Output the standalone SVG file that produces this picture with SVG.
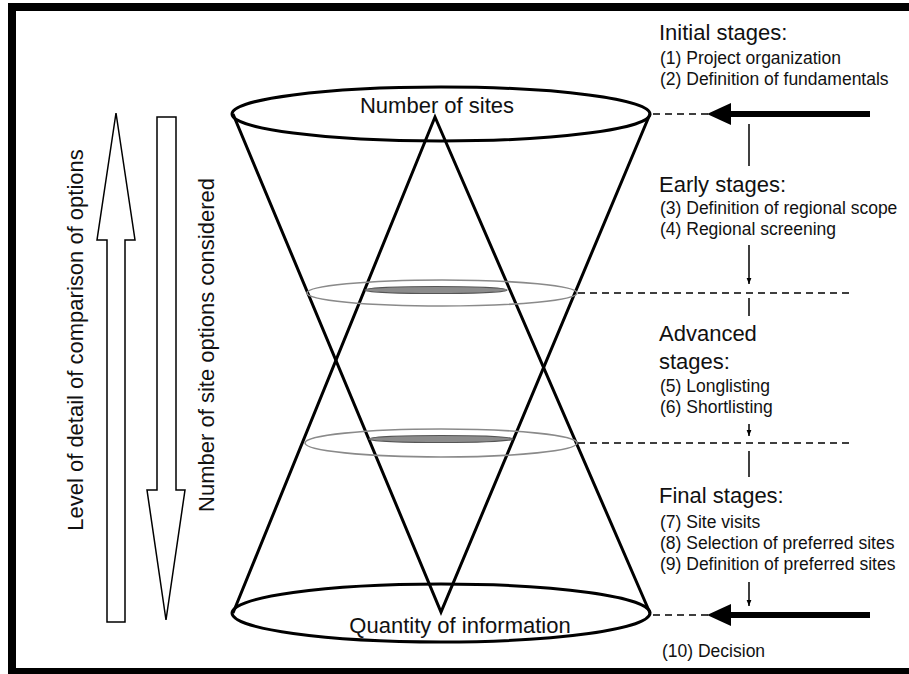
<svg xmlns="http://www.w3.org/2000/svg" width="909" height="674" viewBox="0 0 909 674">
  <defs>
    <style>
      .big { font-family: "Liberation Sans", Arial, sans-serif; font-size: 22px; fill: #111; }
      .small { font-family: "Liberation Sans", Arial, sans-serif; font-size: 17.5px; fill: #111; }
      .cone { fill: none; stroke: #000; stroke-width: 3; stroke-linejoin: miter; }
      .ring { fill: none; stroke: #8a8a8a; stroke-width: 1.6; }
      .core { fill: #8c8c8c; stroke: #555; stroke-width: 1.2; }
      .dash { stroke: #000; stroke-width: 1.5; stroke-dasharray: 7 5; fill: none; }
      .thin { stroke: #000; stroke-width: 1.5; fill: none; }
      .hollow { fill: #fff; stroke: #000; stroke-width: 1.5; stroke-linejoin: miter; }
    </style>
    <marker id="tip" viewBox="0 0 10 10" refX="10" refY="5" markerWidth="6" markerHeight="6" orient="auto" markerUnits="userSpaceOnUse">
      <path d="M0,1 L10,5 L0,9 Z" fill="#000"/>
    </marker>
  </defs>

  <rect width="909" height="674" fill="#fff"/>
  <!-- frame -->
  <rect x="12" y="7" width="910" height="665" fill="none" stroke="#000" stroke-width="8"/>

  <!-- side arrows -->
  <g id="arrow-detail">
    <polygon class="hollow" points="116,113 135,240 125,240 125,622 107,622 107,240 97,240"/>
    <text class="big" transform="translate(83,340) rotate(-90)" text-anchor="middle">Level of detail of comparison of options</text>
  </g>
  <g id="arrow-options">
    <polygon class="hollow" points="157,117 176,117 176,490 185,490 166,620 147,490 157,490"/>
    <text class="big" transform="translate(214,345) rotate(-90)" text-anchor="middle">Number of site options considered</text>
  </g>

  <!-- funnel -->
  <g id="funnel">
    <polyline class="cone" points="233,114 441,612 650,114"/>
    <polyline class="cone" points="233,613 435,117 650,613"/>
    <ellipse class="ring" cx="442" cy="293" rx="135" ry="13"/>
    <ellipse class="core" cx="436" cy="290" rx="71" ry="3.5"/>
    <ellipse class="ring" cx="441" cy="443" rx="136" ry="14"/>
    <ellipse class="core" cx="441" cy="439" rx="72" ry="3.5"/>
  </g>
  <g id="top-ellipse">
    <ellipse class="cone" cx="441" cy="114" rx="209" ry="27"/>
    <text class="big" x="437" y="113" text-anchor="middle">Number of sites</text>
  </g>
  <g id="bottom-ellipse">
    <ellipse class="cone" cx="441" cy="613" rx="209" ry="29"/>
    <text class="big" x="460" y="633" text-anchor="middle">Quantity of information</text>
  </g>

  <!-- connectors -->
  <g id="connectors">
    <line class="dash" x1="653" y1="114" x2="708" y2="114"/>
    <line x1="870" y1="114" x2="725" y2="114" stroke="#000" stroke-width="6"/>
    <polygon points="707,114 731,103 731,125" fill="#000"/>
    <line class="thin" x1="749" y1="124" x2="749" y2="166"/>

    <line class="thin" x1="749" y1="245" x2="749" y2="284" marker-end="url(#tip)"/>
    <line class="dash" x1="578" y1="293" x2="852" y2="293"/>
    <line class="thin" x1="749" y1="298" x2="749" y2="316"/>

    <line class="thin" x1="749" y1="424" x2="749" y2="436" marker-end="url(#tip)"/>
    <line class="dash" x1="578" y1="443" x2="852" y2="443"/>
    <line class="thin" x1="749" y1="451" x2="749" y2="477"/>

    <line class="thin" x1="749" y1="582" x2="749" y2="606" marker-end="url(#tip)"/>
    <line class="dash" x1="653" y1="615" x2="708" y2="615"/>
    <line x1="870" y1="615" x2="725" y2="615" stroke="#000" stroke-width="6"/>
    <polygon points="707,615 731,604 731,626" fill="#000"/>
  </g>

  <!-- stage descriptions -->
  <g id="initial-stages">
    <text class="big" x="659" y="40">Initial stages:</text>
    <text class="small" x="660" y="64">(1) Project organization</text>
    <text class="small" x="660" y="85">(2) Definition of fundamentals</text>
  </g>
  <g id="early-stages">
    <text class="big" x="659" y="192">Early stages:</text>
    <text class="small" x="660" y="214">(3) Definition of regional scope</text>
    <text class="small" x="660" y="235">(4) Regional screening</text>
  </g>
  <g id="advanced-stages">
    <text class="big" x="659" y="341">Advanced</text>
    <text class="big" x="659" y="369">stages:</text>
    <text class="small" x="660" y="392">(5) Longlisting</text>
    <text class="small" x="660" y="413">(6) Shortlisting</text>
  </g>
  <g id="final-stages">
    <text class="big" x="659" y="503">Final stages:</text>
    <text class="small" x="660" y="528">(7) Site visits</text>
    <text class="small" x="660" y="549">(8) Selection of preferred sites</text>
    <text class="small" x="660" y="570">(9) Definition of preferred sites</text>
  </g>
  <g id="decision">
    <text class="small" x="662" y="657">(10) Decision</text>
  </g>
</svg>
